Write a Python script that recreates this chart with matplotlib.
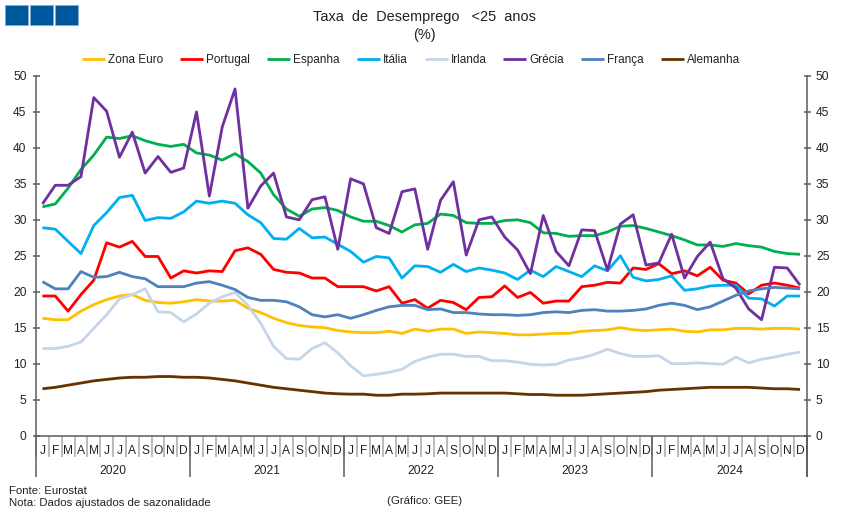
import matplotlib
matplotlib.use("Agg")
import matplotlib.pyplot as plt
from matplotlib.patches import Rectangle
import numpy as np

plt.rcParams['font.family'] = ['Liberation Sans', 'DejaVu Sans']

W, H = 843, 518
months = list("JFMAMJJASOND") * 5
years = ["2020", "2021", "2022", "2023", "2024"]

zona_euro = [16.3,16.1,16.1,17.3,18.2,18.9,19.4,19.6,18.8,18.5,18.4,18.6,
             18.9,18.7,18.7,18.8,17.7,17.1,16.3,15.7,15.3,15.1,15.0,14.6,
             14.4,14.3,14.3,14.5,14.2,14.8,14.5,14.8,14.8,14.2,14.4,14.3,
             14.2,14.0,14.0,14.1,14.2,14.2,14.5,14.6,14.7,15.0,14.7,14.6,
             14.7,14.8,14.5,14.4,14.7,14.7,14.9,14.9,14.8,14.9,14.9,14.8]
portugal = [19.4,19.4,17.3,19.6,21.6,26.8,26.2,27.0,24.9,24.9,21.9,22.9,
            22.6,22.9,22.8,25.7,26.1,25.2,23.1,22.7,22.6,21.9,21.9,20.7,
            20.7,20.7,20.1,20.7,18.4,18.9,17.7,18.8,18.5,17.5,19.2,19.3,
            20.8,19.2,19.9,18.4,18.7,18.7,20.7,20.9,21.3,21.2,23.3,23.1,
            23.9,22.5,22.9,22.2,23.4,21.6,21.2,19.7,20.9,21.2,20.9,20.5]
espanha = [31.8,32.2,34.4,37.0,39.0,41.5,41.3,41.7,41.0,40.5,40.2,40.5,
           39.3,39.0,38.3,39.2,38.1,36.5,33.5,31.5,30.5,31.5,31.7,31.3,
           30.4,29.8,29.8,29.2,28.3,29.3,29.5,30.8,30.6,29.6,29.5,29.5,
           29.9,30.0,29.6,28.2,28.1,27.7,27.8,27.8,28.3,29.1,29.2,28.8,
           28.3,27.8,27.2,26.5,26.5,26.3,26.7,26.4,26.2,25.6,25.3,25.2]
italia = [28.9,28.7,27.0,25.3,29.2,31.0,33.1,33.4,29.9,30.3,30.2,31.1,
          32.6,32.3,32.6,32.3,30.7,29.6,27.4,27.3,28.8,27.5,27.6,26.6,
          25.6,24.1,24.9,24.7,21.9,23.6,23.5,22.7,23.8,22.8,23.3,23.0,
          22.6,21.7,23.0,22.1,23.5,22.8,22.1,23.6,22.9,25.0,22.0,21.5,
          21.7,22.2,20.2,20.4,20.8,20.9,20.9,19.1,19.0,18.0,19.4,19.4]
irlanda = [12.1,12.1,12.4,13.0,14.9,16.8,19.0,19.6,20.4,17.2,17.1,15.8,
           16.9,18.4,19.3,19.9,18.1,15.6,12.4,10.7,10.6,12.1,12.9,11.5,
           9.7,8.3,8.5,8.8,9.2,10.3,10.9,11.3,11.3,11.0,11.0,10.4,
           10.4,10.2,9.9,9.8,9.9,10.5,10.8,11.3,12.0,11.4,11.0,11.0,
           11.1,10.0,10.0,10.1,10.0,9.9,10.9,10.1,10.6,10.9,11.3,11.6]
grecia = [32.2,34.8,34.8,36.0,47.0,45.1,38.7,42.2,36.5,38.8,36.6,37.2,
          45.0,33.3,42.9,48.2,31.6,34.7,36.5,30.4,30.0,32.8,33.2,25.9,
          35.7,35.0,28.9,28.1,33.9,34.3,25.9,32.7,35.3,25.1,30.0,30.4,
          27.6,25.8,22.5,30.6,25.6,23.6,28.6,28.5,23.0,29.4,30.7,23.7,
          24.0,28.0,21.9,24.9,26.9,21.8,20.5,17.6,16.1,23.4,23.3,20.9]
franca = [21.4,20.4,20.4,22.8,22.0,22.1,22.7,22.1,21.8,20.7,20.7,20.7,
          21.2,21.4,20.9,20.3,19.2,18.8,18.8,18.6,17.9,16.8,16.5,16.8,
          16.3,16.8,17.4,17.9,18.1,18.1,17.5,17.6,17.1,17.1,16.9,16.8,
          16.8,16.7,16.8,17.1,17.2,17.1,17.4,17.5,17.3,17.3,17.4,17.6,
          18.1,18.4,18.1,17.5,17.9,18.7,19.5,20.1,20.4,20.6,20.5,20.4]
alemanha = [6.5,6.7,7.0,7.3,7.6,7.8,8.0,8.1,8.1,8.2,8.2,8.1,
            8.1,8.0,7.8,7.6,7.3,7.0,6.7,6.5,6.3,6.1,5.9,5.8,
            5.75,5.75,5.6,5.6,5.75,5.75,5.8,5.9,5.9,5.9,5.9,5.9,
            5.9,5.8,5.7,5.7,5.6,5.6,5.6,5.7,5.8,5.9,6.0,6.1,
            6.3,6.4,6.5,6.6,6.7,6.7,6.7,6.7,6.6,6.5,6.5,6.4]

series = [("Zona Euro", zona_euro, "#FFC000"),
          ("Portugal", portugal, "#FF0000"),
          ("Espanha", espanha, "#00B050"),
          ("Itália", italia, "#00B0F0"),
          ("Irlanda", irlanda, "#C6D6EA"),
          ("Grécia", grecia, "#7030A0"),
          ("França", franca, "#4F81BD"),
          ("Alemanha", alemanha, "#663300")]

TXT = "#222222"
AX = "#595959"
px = 72 / 100  # points per pixel at dpi 100

fig = plt.figure(figsize=(W / 100, H / 100), dpi=100)
L, R, T, B = 36, 806.5, 76, 435.5
ax = fig.add_axes([L / W, 1 - B / H, (R - L) / W, (B - T) / H])
x = np.arange(60)
for name, vals, col in series:
    ax.plot(x, vals, color=col, lw=2.8 * px, label=name, solid_joinstyle='round', solid_capstyle='butt')

ax.set_xlim(-0.5, 59.5)
ax.set_ylim(0, 50)
ax.spines['top'].set_visible(False)
for s in ('left', 'right', 'bottom'):
    ax.spines[s].set_color(AX)
    ax.spines[s].set_linewidth(1.5 * px)
ax.patch.set_alpha(0)

# y axes on both sides, ticks straddling the spine
yt = np.arange(0, 51, 5)
ax.set_yticks(yt)
ax.tick_params(axis='y', which='major', direction='inout', length=7 * px, width=1.5 * px, color=AX,
               left=True, right=True, labelleft=True, labelright=True,
               labelsize=12 * px, labelcolor=TXT, pad=6 * px)

# months
ax.set_xticks(x, months)
ax.tick_params(axis='x', which='major', length=0, pad=9 * px, labelsize=12 * px, labelcolor=TXT)
ax.set_xticks(np.arange(-0.5, 60, 1), minor=True)
ax.tick_params(axis='x', which='minor', length=21 * px, width=1.5 * px, color="#a6a6a6")

# year separators and labels
trans = ax.get_xaxis_transform()
drop = -41.5 / (B - T)
ax.vlines(np.arange(-0.5, 60, 12), drop, 0, transform=trans, color=AX, lw=1.5 * px, clip_on=False)
ax.vlines([59.5], drop, 0, transform=trans, color=AX, lw=1.5 * px, clip_on=False)
for i, y in enumerate(years):
    ax.text(5.5 + 12 * i, -35.5 / (B - T), y, transform=trans, ha='center', va='center',
            fontsize=12 * px, color=TXT)

fs = 11.7 * px
leg = fig.legend(*ax.get_legend_handles_labels(), loc='center', ncol=8,
                 bbox_to_anchor=(411 / W, 1 - 60.2 / H), frameon=False, fontsize=fs,
                 handlelength=23 * px / fs, handletextpad=3 * px / fs,
                 columnspacing=17 * px / fs, borderpad=0, borderaxespad=0, labelcolor=TXT)

fig.text(424.5 / W, 1 - 16.5 / H, "Taxa  de  Desemprego   <25  anos", ha='center', va='center',
         fontsize=14.5 * px, color=TXT)
fig.text(424.5 / W, 1 - 35.5 / H, "(%)", ha='center', va='center', fontsize=14.5 * px, color=TXT)

fs2 = 11.4 * px
fig.text(9 / W, 1 - 490.5 / H, "Fonte: Eurostat", ha='left', va='center', fontsize=fs2, color=TXT)
fig.text(9 / W, 1 - 503.5 / H, "Nota: Dados ajustados de sazonalidade", ha='left', va='center', fontsize=fs2, color=TXT)
fig.text(424.5 / W, 1 - 501.5 / H, "(Gráfico: GEE)", ha='center', va='center', fontsize=fs2, color=TXT)

# three square logo blocks
for x0 in (5, 30, 55):
    fig.add_artist(Rectangle((x0 / W, 1 - 25 / H), 23 / W, 20 / H, transform=fig.transFigure,
                             facecolor="#00589C", edgecolor="#8aa9c4", lw=0.5))

fig.savefig("out.png", dpi=100)
